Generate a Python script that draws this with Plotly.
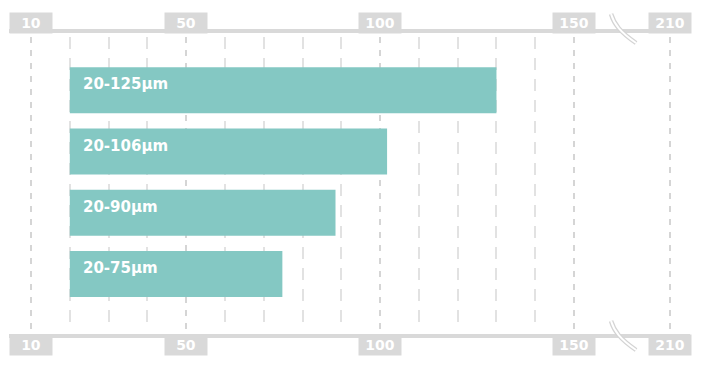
import plotly.graph_objects as go

# ---- data ----
categories = ["20-125µm", "20-106µm", "20-90µm", "20-75µm"]
bar_start = 20
bar_end = [130, 101.8, 88.5, 74.8]
tick_labels = ["10", "50", "100", "150", "210"]
tick_pos = [10, 50, 100, 150, 174.7]          # 210 sits after the axis break
minor_pos = [20, 30, 40, 60, 70, 80, 90, 110, 120, 130, 140]
break_at = 162.9

W, H = 709, 371
XR = [2.0, 184.8]
MT, MB = 37, 40
PLOT_H = H - MT - MB
PXU = W / (XR[1] - XR[0])

BAR = "#84c8c3"
BOX = "#d9d9d9"

def py2paper(py):
    return (H - MB - py) / PLOT_H

fig = go.Figure()
fig.add_trace(go.Bar(
    y=categories, x=[e - bar_start for e in bar_end], base=bar_start,
    orientation="h", marker=dict(color=BAR, line=dict(width=0)),
    hoverinfo="skip", showlegend=False,
))

annotations = []
for c in categories:
    annotations.append(dict(
        x=bar_start, y=c, xref="x", yref="y", text=c, showarrow=False,
        xanchor="left", yanchor="middle", xshift=11, yshift=6,
        font=dict(family="DejaVu Sans", size=15, color="white", weight="bold"),
    ))

for lab, pos in zip(tick_labels, tick_pos):
    for yc in (23, 345):
        annotations.append(dict(
            x=pos, y=py2paper(yc), xref="x", yref="paper", text=lab,
            showarrow=False, xanchor="center", yanchor="middle",
            width=42, height=20, bgcolor=BOX, borderpad=0,
            font=dict(family="DejaVu Sans", size=14, color="white", weight="bold"),
        ))

shapes = []
x_lo = XR[0] + 9 / PXU
x_hi = XR[0] + 690 / PXU
for yc in (31, 336):
    shapes.append(dict(type="line", xref="x", yref="paper",
                       x0=x_lo, x1=x_hi, y0=py2paper(yc), y1=py2paper(yc),
                       line=dict(color=BOX, width=4)))

def brk_path(yc):
    pts = [(-13, -15), (-10, -5), (-4, 3), (12, 14)]
    def P(dx, dy):
        return f"{break_at + dx / PXU:.4f},{py2paper(yc + dy):.5f}"
    return "M " + P(*pts[0]) + " C " + " ".join(P(*p) for p in pts[1:])

for yc in (29, 336):
    shapes.append(dict(type="path", xref="x", yref="paper", path=brk_path(yc),
                       line=dict(color="#d4d4d4", width=4.5)))
    shapes.append(dict(type="path", xref="x", yref="paper", path=brk_path(yc),
                       line=dict(color="white", width=2)))

fig.update_layout(
    width=W, height=H, margin=dict(l=0, r=0, t=MT, b=MB),
    paper_bgcolor="white", plot_bgcolor="white",
    bargap=0.25,
    xaxis=dict(range=XR, tickvals=tick_pos, showticklabels=False, ticks="",
               showgrid=True, gridcolor="#d5d5d5", gridwidth=1.5, griddash="6px,7px",
               zeroline=False, showline=False,
               minor=dict(tickvals=minor_pos, showgrid=True, gridcolor="#e2e2e2",
                          gridwidth=2, griddash="12px,9px", ticks="")),
    yaxis=dict(categoryorder="array", categoryarray=categories,
               range=[3.93, -0.87], showticklabels=False, showgrid=False,
               zeroline=False, ticks=""),
    annotations=annotations, shapes=shapes,
)

fig.write_html("out.html")
